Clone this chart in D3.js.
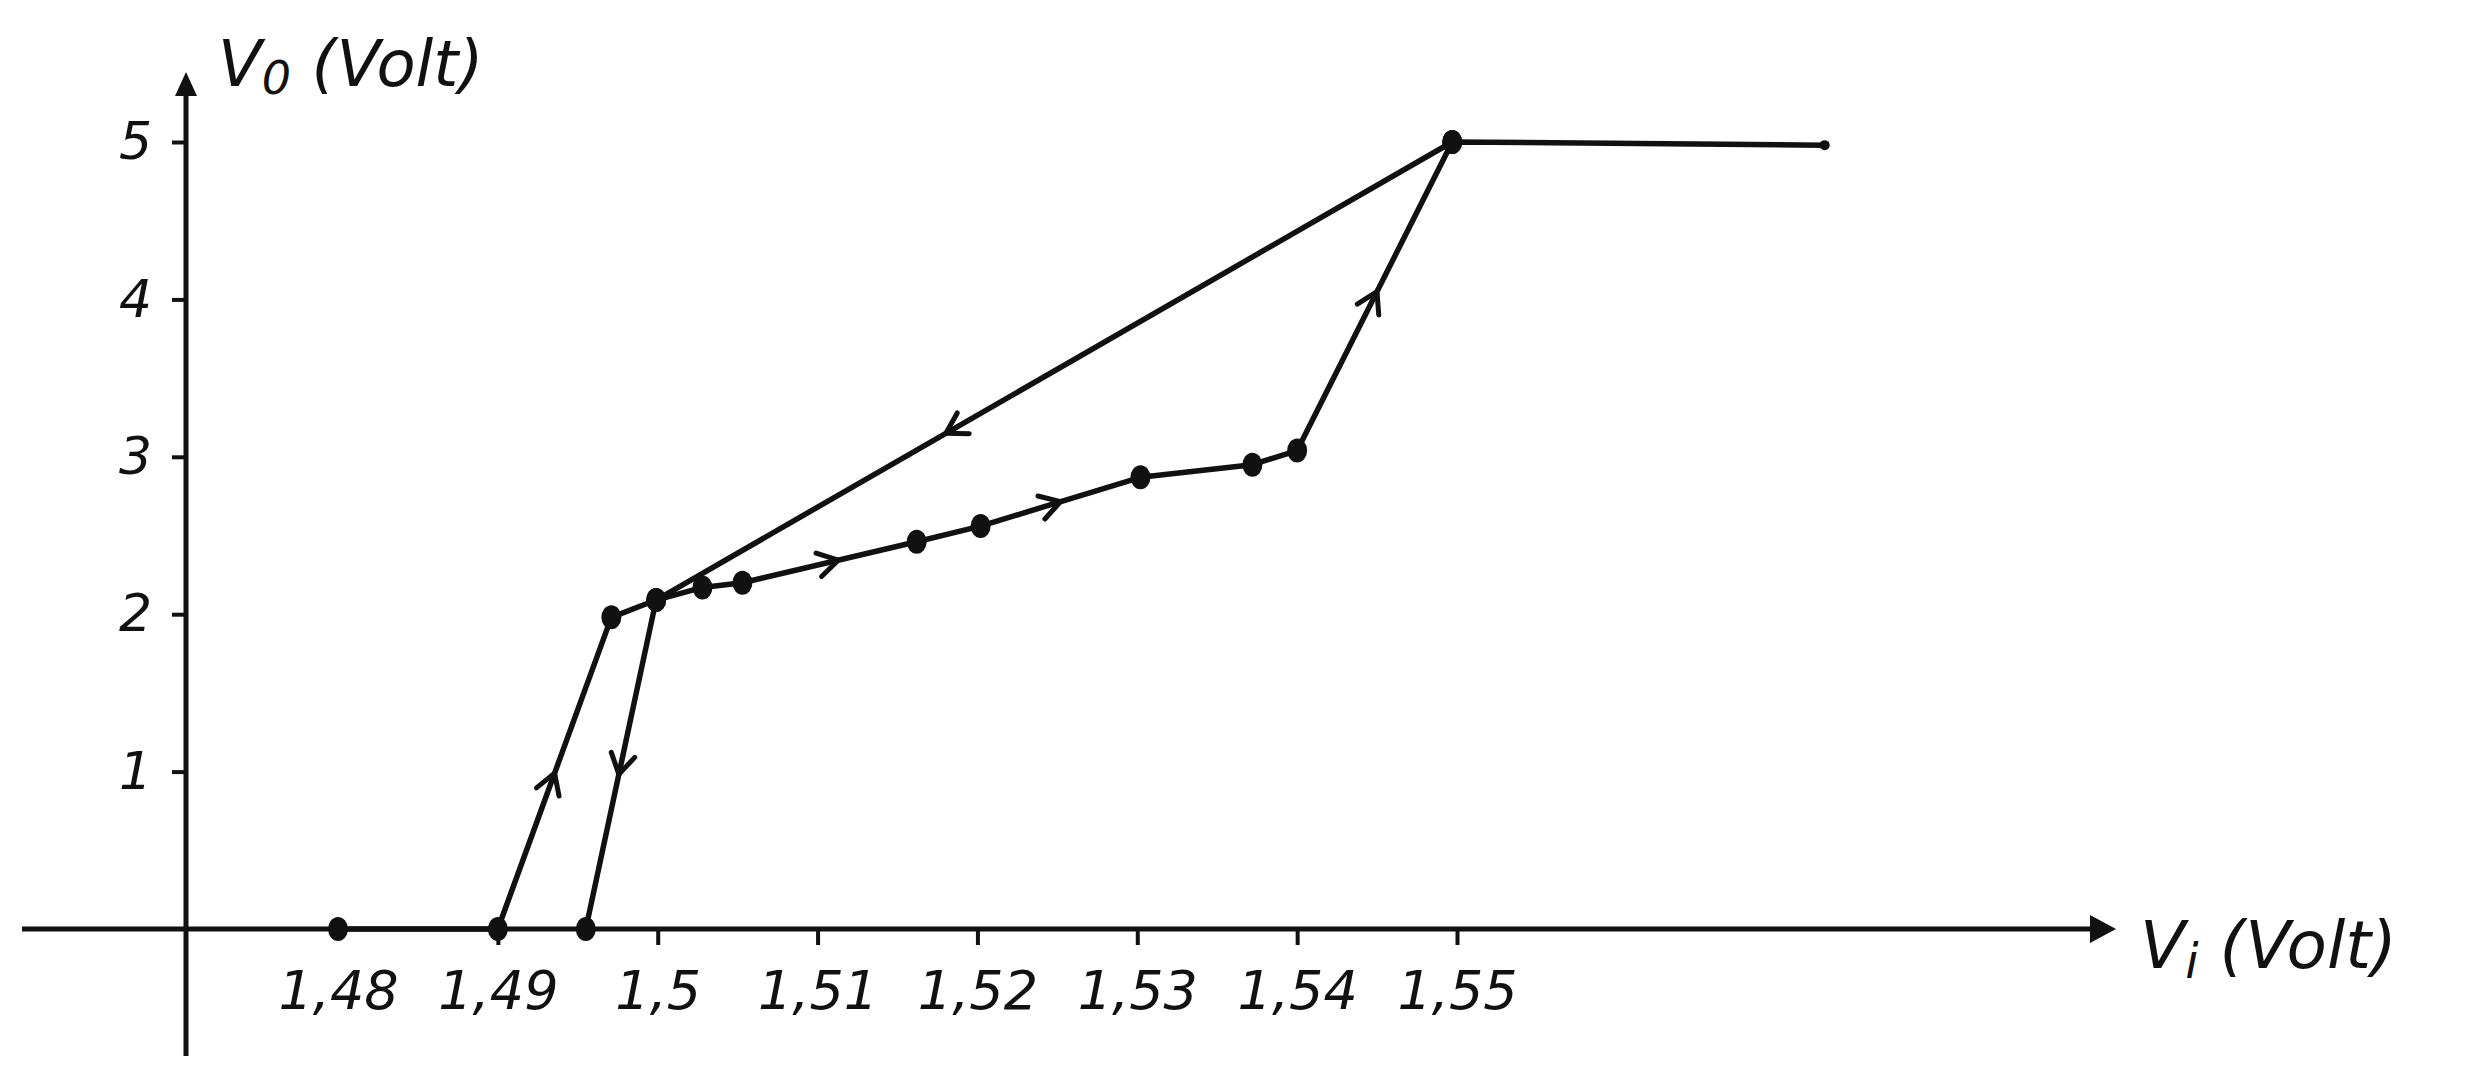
<!DOCTYPE html>
<html><head><meta charset="utf-8">
<script src="https://cdn.jsdelivr.net/npm/d3@7"></script>
<style>
html,body{margin:0;padding:0;background:#fff;}
svg{display:block;}
text{font-family:"DejaVu Sans",sans-serif;font-style:italic;fill:#111;}
</style></head><body>
<script>
// ---- data ----
const xTicks = [1.48, 1.49, 1.50, 1.51, 1.52, 1.53, 1.54, 1.55];
const xTickLabels = ["1,48", "1,49", "1,5", "1,51", "1,52", "1,53", "1,54", "1,55"];
const yTicks = [1, 2, 3, 4, 5];
const yTickLabels = ["1", "2", "3", "4", "5"];
// increasing Vi branch
const upVi = [1.48, 1.49, 1.4971, 1.4999, 1.5028, 1.5053, 1.5162, 1.5202, 1.5302, 1.5372, 1.5400, 1.5497, 1.5730];
const upVo = [0, 0, 1.98, 2.09, 2.17, 2.20, 2.46, 2.56, 2.87, 2.95, 3.04, 5.00, 4.98];
const upDots = [true, true, true, true, true, true, true, true, true, true, true, true, false];
// decreasing Vi branch
const downVi = [1.5497, 1.4999, 1.4955];
const downVo = [5.00, 2.09, 0];
const downDots = [true, true, true];
// direction arrows: branch, segment index, fraction along segment
const arrowBranch = ["up", "down", "up", "up", "up", "down"];
const arrowSeg = [1, 1, 5, 7, 10, 0];
const arrowFrac = [0.50, 0.53, 0.55, 0.50, 0.515, 0.636];

const W = 2478, H = 1067;
const svg = d3.select("body").append("svg").attr("width", W).attr("height", H);

const x = d3.scaleLinear().domain([1.48, 1.55]).range([338, 1457]);
const y = d3.scaleLinear().domain([0, 5]).range([929, 142]);
const axX = 186, axY = y(0);

const ink = "#111";

// axes lines
svg.append("line").attr("x1", 22).attr("x2", 2100).attr("y1", axY).attr("y2", axY)
  .attr("stroke", ink).attr("stroke-width", 5);
svg.append("line").attr("x1", axX).attr("x2", axX).attr("y1", 1056).attr("y2", 88)
  .attr("stroke", ink).attr("stroke-width", 5);
// arrow heads
svg.append("path").attr("d", `M${2090},${axY-14} L${2116},${axY} L${2090},${axY+14} Z`).attr("fill", ink);
svg.append("path").attr("d", `M${axX-11},${96} L${axX},${72} L${axX+11},${96} Z`).attr("fill", ink);

// x axis ticks via d3 axis
const gx = svg.append("g").attr("transform", `translate(0,${axY})`)
  .call(d3.axisBottom(x).tickValues(xTicks).tickSize(16).tickPadding(26)
    .tickFormat((d, i) => xTickLabels[i]));
gx.select(".domain").remove();
gx.selectAll(".tick line").attr("stroke", ink).attr("stroke-width", 4)
  .attr("y1", 2).attr("y2", (d, i) => i === 0 ? 2 : 16);
gx.selectAll(".tick text").style("font-size", "54px").attr("fill", ink)
  .attr("font-family", null);

// y axis ticks
const gy = svg.append("g").attr("transform", `translate(${axX},0)`)
  .call(d3.axisLeft(y).tickValues(yTicks).tickSize(14).tickPadding(20)
    .tickFormat((d, i) => yTickLabels[i]));
gy.select(".domain").remove();
gy.selectAll(".tick line").attr("stroke", ink).attr("stroke-width", 4);
gy.selectAll(".tick text").style("font-size", "52px").attr("fill", ink)
  .attr("font-family", null);

// axis titles
const ty = svg.append("text").attr("x", 218).attr("y", 86).style("font-size", "64px");
ty.append("tspan").text("V");
ty.append("tspan").attr("dy", 8).style("font-size", "46px").text("0");
ty.append("tspan").attr("dy", -8).text(" (Volt)");
const tx = svg.append("text").attr("x", 2140).attr("y", 968).style("font-size", "66px");
tx.append("tspan").text("V");
tx.append("tspan").attr("dy", 10).style("font-size", "48px").text("i");
tx.append("tspan").attr("dy", -10).text("  (Volt)");

// curves
const up = upVi.map((v, i) => ({vi: v, vo: upVo[i], dot: upDots[i]}));
const down = downVi.map((v, i) => ({vi: v, vo: downVo[i], dot: downDots[i]}));
const line = d3.line().x(d => x(d.vi)).y(d => y(d.vo));
[up, down].forEach(br => {
  svg.append("path").attr("d", line(br)).attr("fill", "none")
    .attr("stroke", ink).attr("stroke-width", 5.5).attr("stroke-linejoin", "round");
  svg.selectAll(null).data(br.filter(d => d.dot)).enter().append("ellipse")
    .attr("cx", d => x(d.vi)).attr("cy", d => y(d.vo))
    .attr("rx", 10).attr("ry", 12).attr("fill", ink);
});
// small end blob
svg.append("circle").attr("cx", x(upVi[upVi.length-1])).attr("cy", y(upVo[upVo.length-1]))
  .attr("r", 5).attr("fill", ink);

// arrows
arrowBranch.forEach((b, k) => {
  const br = b === "up" ? up : down;
  const s = arrowSeg[k], f = arrowFrac[k];
  const p0 = br[s], p1 = br[s+1];
  const x0 = x(p0.vi), y0 = y(p0.vo), x1 = x(p1.vi), y1 = y(p1.vo);
  const px = x0 + (x1 - x0) * f, py = y0 + (y1 - y0) * f;
  const ang = Math.atan2(y1 - y0, x1 - x0) * 180 / Math.PI;
  svg.append("path").attr("d", "M-20,-12 L0,0 L-20,12")
    .attr("transform", `translate(${px},${py}) rotate(${ang})`)
    .attr("fill", "none").attr("stroke", ink).attr("stroke-width", 5)
    .attr("stroke-linecap", "round").attr("stroke-linejoin", "round");
});
</script>
</body></html>
